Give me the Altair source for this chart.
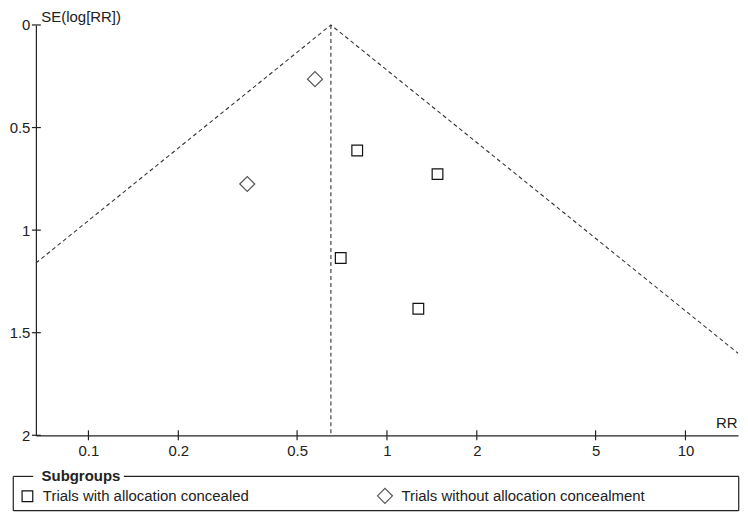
import altair as alt
import pandas as pd

# ---- data ----
rr_values = [0.795, 1.477, 0.700, 1.274, 0.574, 0.3405]
se_values = [0.612, 0.727, 1.136, 1.383, 0.264, 0.775]
groups = ["Trials with allocation concealed"] * 4 + ["Trials without allocation concealment"] * 2
group_names = ["Trials with allocation concealed", "Trials without allocation concealment"]

pooled_rr = 0.649
funnel_rr = [0.0667, 0.649, 15.0]
funnel_se = [1.16, 0.0, 1.60]
funnel_order = [0, 1, 2]

x_ticks = [0.1, 0.2, 0.5, 1, 2, 5, 10]
y_ticks = [0, 0.5, 1, 1.5, 2]

FONT = "Liberation Sans"
W, H = 705, 412

pts = pd.DataFrame({"RR": rr_values, "SE": se_values, "group": groups})
funnel = pd.DataFrame({"RR": funnel_rr, "SE": funnel_se, "o": funnel_order})
pooled = pd.DataFrame({"RR": [pooled_rr], "SE": [0.0], "SE2": [2.0]})
xt = pd.DataFrame({"RR": x_ticks})
yt = pd.DataFrame({"SE": y_ticks})
one = pd.DataFrame({"a": [0]})

xs = alt.Scale(type="log", domain=[1 / 15, 15], nice=False)
ys = alt.Scale(domain=[0, 2], reverse=True, nice=False)

x_axis = alt.Axis(values=x_ticks, format="~g", ticks=False, labelPadding=8, grid=False,
                  domainColor="#222222", domainWidth=1.2,
                  title="RR", titleX=W - 1, titleY=-13, titleAlign="right",
                  titleBaseline="middle", titleFontWeight="normal")
y_axis = alt.Axis(values=y_ticks, format="~g", ticks=False, labelPadding=6, grid=False,
                  domainColor="#222222", domainWidth=1.2,
                  title="SE(log[RR])", titleAngle=0, titleX=5, titleY=-8,
                  titleAlign="left", titleBaseline="middle", titleFontWeight="normal")

leg = alt.Legend(title=None, orient="none", legendX=-16, legendY=464,
                 direction="horizontal", padding=0,
                 labelFont=FONT, labelFontSize=15, labelColor="#222222", labelLimit=500,
                 labelOffset=8, columnPadding=125, symbolStrokeWidth=1.2)

base_pts = alt.Chart(pts).mark_point(filled=False, strokeWidth=1.2, opacity=1).encode(
    x=alt.X("RR:Q", scale=xs, axis=x_axis),
    y=alt.Y("SE:Q", scale=ys, axis=y_axis),
    shape=alt.Shape("group:N", scale=alt.Scale(domain=group_names, range=["square", "diamond"]), legend=leg),
    color=alt.Color("group:N", scale=alt.Scale(domain=group_names, range=["#111111", "#555555"]), legend=leg),
    size=alt.Size("group:N", scale=alt.Scale(domain=group_names, range=[115, 225]), legend=leg),
)

funnel_line = alt.Chart(funnel).mark_line(strokeDash=[4, 3], color="#333333", strokeWidth=1.1).encode(
    x=alt.X("RR:Q", scale=xs, axis=x_axis), y=alt.Y("SE:Q", scale=ys, axis=y_axis), order="o:O")

pooled_line = alt.Chart(pooled).mark_rule(strokeDash=[4, 3], color="#333333", strokeWidth=1.1).encode(
    x=alt.X("RR:Q", scale=xs, axis=x_axis), y=alt.Y("SE:Q", scale=ys, axis=y_axis), y2="SE2:Q")

x_tick_rules = alt.Chart(xt).mark_rule(color="#222222", strokeWidth=1.2).encode(
    x=alt.X("RR:Q", scale=xs, axis=x_axis), y=alt.value(H - 5), y2=alt.value(H + 5))
y_tick_rules = alt.Chart(yt).mark_rule(color="#222222", strokeWidth=1.2).encode(
    y=alt.Y("SE:Q", scale=ys, axis=y_axis), x=alt.value(-4), x2=alt.value(5))

# legend frame with inset title
LL, LR, LT, LB = -22.7, 705.7, 453.3, 487.7
frame_parts = [
    (LL, LL, LT, LB), (LR, LR, LT, LB), (LL, LR, LB, LB),
    (LL, -2.7, LT, LT), (88.3, LR, LT, LT),
]
frame = []
for (a, b, c, d) in frame_parts:
    frame.append(alt.Chart(one).mark_rule(color="#222222", strokeWidth=1.2).encode(
        x=alt.value(a), x2=alt.value(b), y=alt.value(c), y2=alt.value(d)))
sub_title = alt.Chart(one).mark_text(text="Subgroups", font=FONT, fontSize=15, fontWeight="bold",
                                     align="left", baseline="middle", color="#222222").encode(
    x=alt.value(5.7), y=alt.value(452.7))

chart = alt.layer(funnel_line, pooled_line, x_tick_rules, y_tick_rules, base_pts, *frame, sub_title).properties(
    width=W, height=H,
    background="white",
    autosize=alt.AutoSizeParams(type="none"),
    padding={"left": 28, "top": 16, "right": 2, "bottom": 80},
).configure_view(stroke=None).configure_axis(
    domainColor="#222222", domainWidth=1.2, grid=False,
    labelFont=FONT, labelFontSize=15, labelColor="#222222",
    titleFont=FONT, titleFontSize=15, titleColor="#222222",
)

chart.save("out.html", embed_options={"renderer": "svg", "actions": False})
